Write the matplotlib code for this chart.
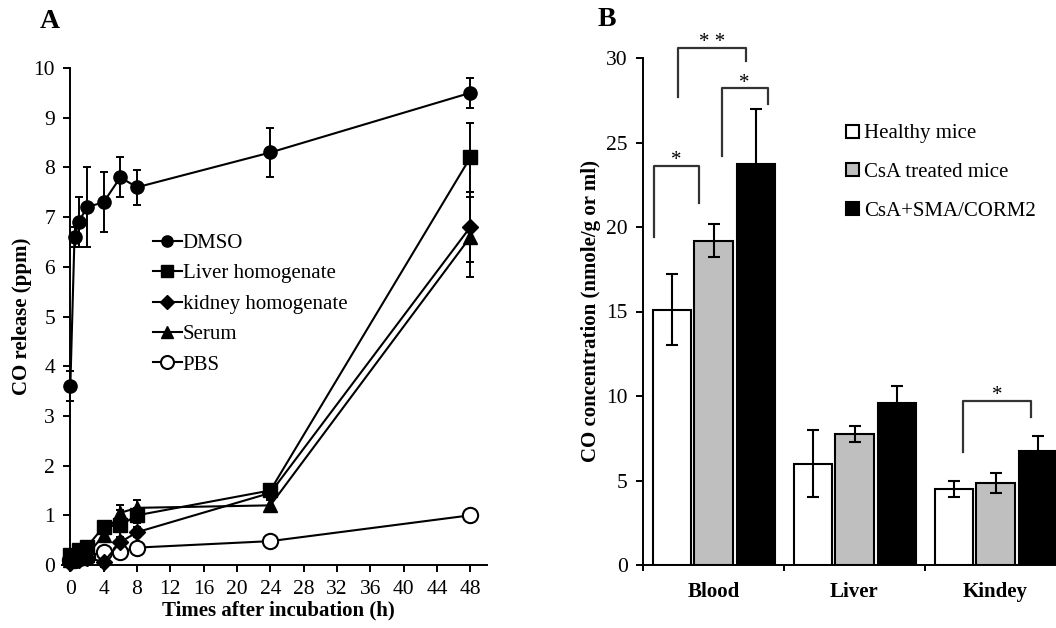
"""
Two-panel figure: CO release over time (A) and tissue CO concentration (B).
"""

import matplotlib
matplotlib.use("Agg")
import matplotlib.pyplot as plt
import numpy as np

plt.rcParams["font.family"] = ["Liberation Serif", "DejaVu Serif"]
plt.rcParams["font.size"] = 15

# --- panel A data ---------------------------------------------------
T_DMSO = [0, 0.5, 1, 2, 4, 6, 8, 24, 48]
DMSO = [3.6, 6.6, 6.9, 7.2, 7.3, 7.8, 7.6, 8.3, 9.5]
DMSO_ERR = [0.3, 0.2, 0.5, 0.8, 0.6, 0.4, 0.35, 0.5, 0.3]

T_TISSUE = [0, 1, 2, 4, 6, 8, 24, 48]
LIVER = [0.2, 0.3, 0.37, 0.77, 0.8, 1.0, 1.5, 8.2]
LIVER_ERR = [0.05, 0.05, 0.1, 0.1, 0.3, 0.15, 0.1, 0.7]
KIDNEY = [0.05, 0.1, 0.15, 0.06, 0.46, 0.66, 1.45, 6.8]
KIDNEY_ERR = [0.05, 0.05, 0.05, 0.1, 0.1, 0.1, 0.1, 0.7]
SERUM = [0.1, 0.15, 0.2, 0.6, 1.05, 1.15, 1.2, 6.6]
SERUM_ERR = [0.05, 0.05, 0.05, 0.1, 0.15, 0.15, 0.1, 0.8]

T_PBS = [0, 0.5, 1, 2, 4, 6, 8, 24, 48]
PBS = [0.1, 0.1, 0.15, 0.17, 0.27, 0.27, 0.35, 0.48, 1.0]

# --- panel B data ---------------------------------------------------
TISSUES = ["Blood", "Liver", "Kindey"]
GROUPS = ["Healthy mice", "CsA treated mice", "CsA+SMA/CORM2"]
GROUP_COLORS = ["white", "#bfbfbf", "black"]
CONC = [[15.1, 6.0, 4.5],
        [19.2, 7.75, 4.85],
        [23.7, 9.6, 6.75]]
CONC_ERR = [[2.1, 2.0, 0.5],
            [1.0, 0.45, 0.6],
            [3.3, 1.0, 0.9]]

# significance brackets: (x left, x right, y top, left leg bottom,
# right leg bottom, label)
BRACKETS = [
    (-0.42, -0.106, 23.6, 19.4, 21.4, "*"),
    (-0.25, 0.234, 30.6, 27.7, 29.8, "* *"),
    (0.057, 0.383, 28.2, 24.2, 27.3, "*"),
    (1.773, 2.255, 9.7, 6.7, 8.75, "*"),
]

fig = plt.figure(figsize=(10.56, 6.28), dpi=100)

# --- panel A ----------------------------------------------------------
ax = fig.add_axes([62 / 1056, 1 - 565 / 628, 425 / 1056, 497 / 628])
line_kw = dict(color="black", lw=1.5, capsize=3, elinewidth=1.4,
               capthick=1.4, clip_on=False)
series = [
    (T_DMSO, DMSO, DMSO_ERR, "o", 9.5, "DMSO"),
    (T_TISSUE, LIVER, LIVER_ERR, "s", 9.5, "Liver homogenate"),
    (T_TISSUE, KIDNEY, KIDNEY_ERR, "D", 8.5, "kidney homogenate"),
    (T_TISSUE, SERUM, SERUM_ERR, "^", 10, "Serum"),
]
handles, labels = [], []
for t, y, err, mk, ms, name in series:
    c = ax.errorbar(t, y, yerr=err, marker=mk, ms=ms, **line_kw)
    handles.append(c.lines[0])
    labels.append(name)
pbs, = ax.plot(T_PBS, PBS, marker="o", ms=11, color="black", mfc="white",
               mew=1.5, lw=1.5, clip_on=False)
handles.append(pbs)
labels.append("PBS")

ax.set_xlim(-1, 50)
ax.set_ylim(0, 10)
ax.set_xticks(np.arange(0, 49, 4))
ax.set_yticks(np.arange(0, 11, 1))
ax.spines["left"].set_position(("data", 0))
ax.spines[["top", "right"]].set_visible(False)
for s in ("left", "bottom"):
    ax.spines[s].set_linewidth(1.4)
ax.tick_params(axis="y", direction="out", length=5, width=1.4, pad=6,
               labelsize=15.5)
ax.tick_params(axis="x", direction="out", length=5, width=1.4, pad=6,
               labelsize=15.5)
ax.set_xlabel("Times after incubation (h)", fontweight="bold", fontsize=15)
ax.set_ylabel("CO release (ppm)", fontweight="bold", fontsize=15)
ax.xaxis.set_label_coords(0.508, -0.072)
ax.yaxis.set_label_coords(-0.07, 0.5)
ax.legend(handles, labels, loc="upper left",
          bbox_to_anchor=(143 / 1056, 1 - 223 / 628),
          bbox_transform=fig.transFigure, frameon=False, borderpad=0,
          handlelength=1.35, handletextpad=0.05, labelspacing=0.52,
          fontsize=15, markerscale=0.85)

# --- panel B ----------------------------------------------------------
bx = fig.add_axes([643 / 1056, 1 - 565 / 628, 423 / 1056, 507 / 628])
xpos = np.arange(len(TISSUES))
offsets = [-0.295, 0.0, 0.3]
for vals, errs, col, off, name in zip(CONC, CONC_ERR, GROUP_COLORS,
                                      offsets, GROUPS):
    bx.bar(xpos + off, vals, width=0.27, color=col, edgecolor="black",
           lw=1.5, label=name)
    bx.errorbar(xpos + off, vals, yerr=errs, fmt="none", ecolor="black",
                elinewidth=1.5, capsize=4, capthick=1.5)

for x0, x1, top, b0, b1, txt in BRACKETS:
    bx.plot([x0, x0, x1, x1], [b0, top, top, b1], color="#333333",
            lw=1.6, clip_on=False)
    bx.text((x0 + x1) / 2, top + 0.05, txt, ha="center", va="baseline",
            fontsize=15)

bx.set_xlim(-0.5, 2.5)
bx.set_ylim(0, 30)
bx.set_yticks(np.arange(0, 31, 5))
bx.set_xticks(xpos)
bx.set_xticklabels(TISSUES, fontweight="bold", fontsize=15)
bx.set_xticks([-0.5, 0.5, 1.5], minor=True)
bx.tick_params(axis="x", which="major", length=0, pad=12)
bx.tick_params(axis="x", which="minor", length=4, width=1.4,
               direction="out")
bx.tick_params(axis="y", direction="out", length=5, width=1.4, pad=6,
               labelsize=15.5)
bx.spines[["top", "right"]].set_visible(False)
for s in ("left", "bottom"):
    bx.spines[s].set_linewidth(1.4)
bx.set_ylabel("CO concentration (nmole/g or ml)", fontweight="bold",
              fontsize=15)
bx.yaxis.set_label_coords(-0.1, 0.5)
bx.legend(loc="upper left", bbox_to_anchor=(836 / 1056, 1 - 114 / 628),
          bbox_transform=fig.transFigure, frameon=False, borderpad=0,
          handlelength=0.58, handleheight=0.58, handletextpad=0.25,
          labelspacing=0.95, fontsize=15)

fig.text(50 / 1056, 1 - 22 / 628, "A", fontweight="bold", fontsize=20,
         ha="center", va="center")
fig.text(607 / 1056, 1 - 20 / 628, "B", fontweight="bold", fontsize=20,
         ha="center", va="center")

fig.savefig("out.png", dpi=100)
